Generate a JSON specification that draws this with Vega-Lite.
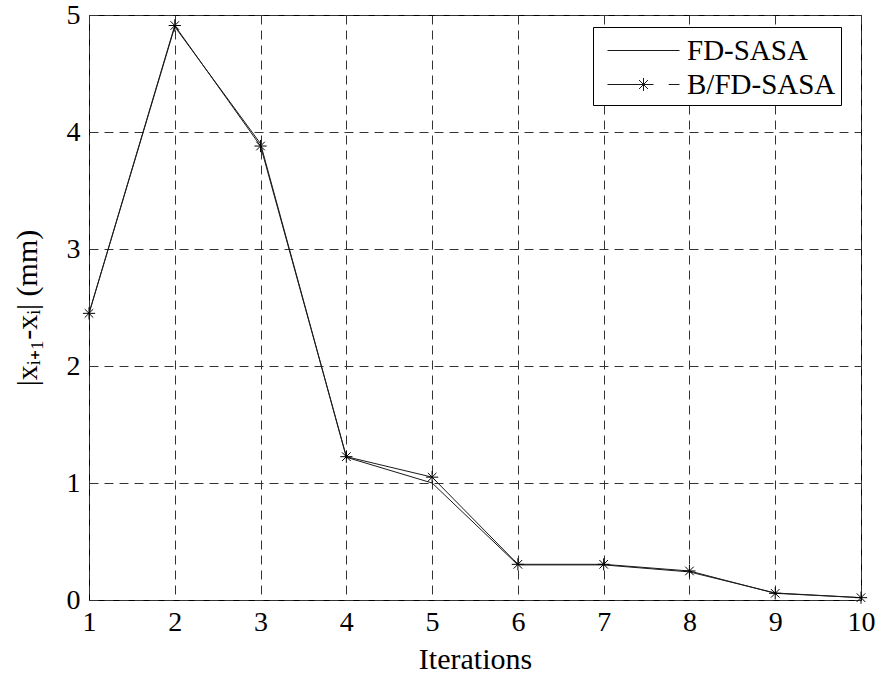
{
  "$schema": "https://vega.github.io/schema/vega-lite/v6.json",
  "width": 772,
  "height": 585,
  "padding": {"left": 12, "top": 1, "right": 0, "bottom": 0},
  "autosize": {"type": "pad"},
  "background": "white",
  "config": {
    "font": "Liberation Serif",
    "view": {"stroke": "black", "strokeWidth": 1},
    "axis": {
      "labelFont": "Liberation Serif",
      "titleFont": "Liberation Serif",
      "labelFontSize": 28,
      "titleFontSize": 30,
      "titleFontWeight": "normal",
      "labelColor": "black",
      "titleColor": "black",
      "domain": false,
      "ticks": false,
      "grid": true,
      "gridColor": "#333333",
      "gridDash": [9, 6],
      "gridWidth": 1,
      "gridOpacity": 1
    }
  },
  "data": {
    "values": [
      {"iter": 1, "value": 2.45, "series": "FD-SASA"},
      {"iter": 2, "value": 4.9, "series": "FD-SASA"},
      {"iter": 3, "value": 3.9, "series": "FD-SASA"},
      {"iter": 4, "value": 1.22, "series": "FD-SASA"},
      {"iter": 5, "value": 1.0, "series": "FD-SASA"},
      {"iter": 6, "value": 0.3, "series": "FD-SASA"},
      {"iter": 7, "value": 0.3, "series": "FD-SASA"},
      {"iter": 8, "value": 0.24, "series": "FD-SASA"},
      {"iter": 9, "value": 0.06, "series": "FD-SASA"},
      {"iter": 10, "value": 0.02, "series": "FD-SASA"},
      {"iter": 1, "value": 2.45, "series": "B/FD-SASA"},
      {"iter": 2, "value": 4.91, "series": "B/FD-SASA"},
      {"iter": 3, "value": 3.88, "series": "B/FD-SASA"},
      {"iter": 4, "value": 1.225, "series": "B/FD-SASA"},
      {"iter": 5, "value": 1.05, "series": "B/FD-SASA"},
      {"iter": 6, "value": 0.305, "series": "B/FD-SASA"},
      {"iter": 7, "value": 0.305, "series": "B/FD-SASA"},
      {"iter": 8, "value": 0.248, "series": "B/FD-SASA"},
      {"iter": 9, "value": 0.057, "series": "B/FD-SASA"},
      {"iter": 10, "value": 0.02, "series": "B/FD-SASA"}
    ]
  },
  "encoding": {
    "x": {
      "field": "iter",
      "type": "quantitative",
      "scale": {"domain": [1, 10], "nice": false, "zero": false},
      "axis": {"values": [1, 2, 3, 4, 5, 6, 7, 8, 9, 10], "title": "Iterations", "labelPadding": 8, "titlePadding": 8, "labelFlush": false}
    },
    "y": {
      "field": "value",
      "type": "quantitative",
      "scale": {"domain": [0, 5], "nice": false},
      "axis": {"values": [0, 1, 2, 3, 4, 5], "title": "|xᵢ₊₁-xᵢ| (mm)", "labelPadding": 9, "titlePadding": 24, "labelFlush": false}
    }
  },
  "layer": [
    {
      "mark": {"type": "line", "strokeWidth": 1},
      "encoding": {
        "color": {
          "field": "series",
          "type": "nominal",
          "sort": ["FD-SASA", "B/FD-SASA"],
          "scale": {"domain": ["FD-SASA", "B/FD-SASA"], "range": ["#1a1a1a", "#1a1a1a"]},
          "legend": {
            "title": null,
            "orient": "none",
            "legendX": 504,
            "legendY": 12,
            "padding": 5,
            "strokeColor": "black",
            "fillColor": "white",
            "labelFont": "Liberation Serif",
            "labelFontSize": 29,
            "labelColor": "black",
            "labelOffset": 52,
            "symbolSize": 1296,
            "symbolStrokeWidth": 1,
            "rowPadding": 0,
            "encode": {
              "symbols": {
                "update": {
                  "shape": {"signal": "datum.value === 'FD-SASA' ? 'M-0.5,0L3.5,0' : 'M-0.5,0L2.056,0M2.9,0L3.5,0M1.5,-0.36L1.5,0.36M1.25,-0.25L1.75,0.25M1.25,0.25L1.75,-0.25'"},
                  "stroke": {"value": "black"},
                  "fill": {"value": "transparent"},
                  "strokeWidth": {"value": 1}
                }
              }
            }
          }
        }
      }
    },
    {
      "transform": [{"filter": "datum.series === 'B/FD-SASA'"}],
      "mark": {
        "type": "point",
        "shape": "M-1,0L1,0M0,-1L0,1M-0.7,-0.7L0.7,0.7M-0.7,0.7L0.7,-0.7",
        "size": 150,
        "filled": false,
        "stroke": "black",
        "strokeWidth": 1,
        "opacity": 1
      }
    }
  ]
}
